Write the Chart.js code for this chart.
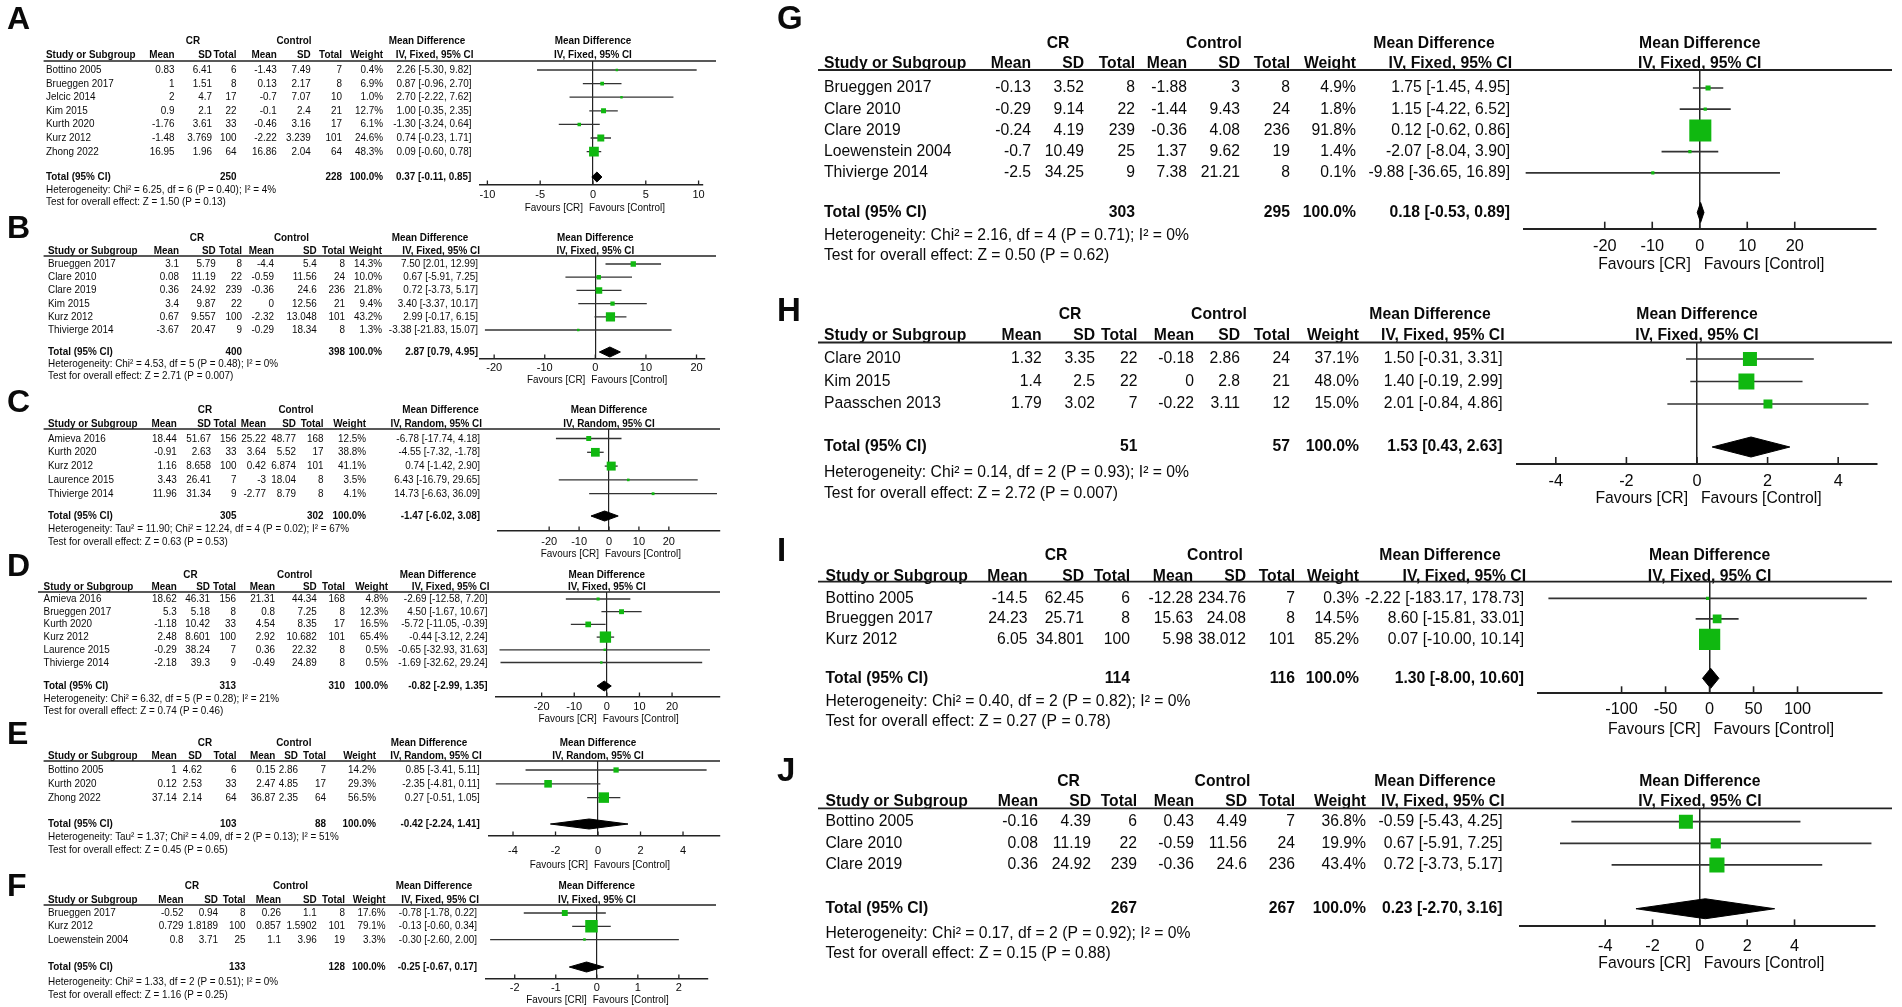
<!DOCTYPE html>
<html>
<head>
<meta charset="utf-8">
<script src="https://cdn.jsdelivr.net/npm/chart.js@4.4.1/dist/chart.umd.min.js"></script>
<style>
  html, body { margin: 0; padding: 0; background: #fff; }
  #fig { position: relative; width: 1902px; height: 1007px; overflow: hidden; background: #fff; }
  #fig canvas { position: absolute; }
</style>
</head>
<body>
<div id="fig"></div>
<script>
// ---- DATA ----
// arms = [CR mean, CR SD, CR n, Control mean, Control SD, Control n]
// md = [mean difference, lower, upper], total = [n CR, n Control, md, lower, upper]

const studiesA = ["Bottino 2005", "Brueggen 2017", "Jelcic 2014", "Kim 2015", "Kurth 2020", "Kurz 2012", "Zhong 2022"];
const armsA = [[0.83, 6.41, 6, -1.43, 7.49, 7], [1, 1.51, 8, 0.13, 2.17, 8], [2, 4.7, 17, -0.7, 7.07, 10], [0.9, 2.1, 22, -0.1, 2.4, 21], [-1.76, 3.61, 33, -0.46, 3.16, 17], [-1.48, 3.769, 100, -2.22, 3.239, 101], [16.95, 1.96, 64, 16.86, 2.04, 64]];
const weightA = [0.4, 6.9, 1.0, 12.7, 6.1, 24.6, 48.3];
const mdA = [[2.26, -5.30, 9.82], [0.87, -0.96, 2.70], [2.70, -2.22, 7.62], [1.00, -0.35, 2.35], [-1.30, -3.24, 0.64], [0.74, -0.23, 1.71], [0.09, -0.60, 0.78]];
const totalA = [250, 228, 0.37, -0.11, 0.85];
const notesA = ["Heterogeneity: Chi² = 6.25, df = 6 (P = 0.40); I² = 4%", "Test for overall effect: Z = 1.50 (P = 0.13)"];
const ticksA = [-10, -5, 0, 5, 10];

const studiesB = ["Brueggen 2017", "Clare 2010", "Clare 2019", "Kim 2015", "Kurz 2012", "Thivierge 2014"];
const armsB = [[3.1, 5.79, 8, -4.4, 5.4, 8], [0.08, 11.19, 22, -0.59, 11.56, 24], [0.36, 24.92, 239, -0.36, 24.6, 236], [3.4, 9.87, 22, 0, 12.56, 21], [0.67, 9.557, 100, -2.32, 13.048, 101], [-3.67, 20.47, 9, -0.29, 18.34, 8]];
const weightB = [14.3, 10.0, 21.8, 9.4, 43.2, 1.3];
const mdB = [[7.50, 2.01, 12.99], [0.67, -5.91, 7.25], [0.72, -3.73, 5.17], [3.40, -3.37, 10.17], [2.99, -0.17, 6.15], [-3.38, -21.83, 15.07]];
const totalB = [400, 398, 2.87, 0.79, 4.95];
const notesB = ["Heterogeneity: Chi² = 4.53, df = 5 (P = 0.48); I² = 0%", "Test for overall effect: Z = 2.71 (P = 0.007)"];
const ticksB = [-20, -10, 0, 10, 20];

const studiesC = ["Amieva 2016", "Kurth 2020", "Kurz 2012", "Laurence 2015", "Thivierge 2014"];
const armsC = [[18.44, 51.67, 156, 25.22, 48.77, 168], [-0.91, 2.63, 33, 3.64, 5.52, 17], [1.16, 8.658, 100, 0.42, 6.874, 101], [3.43, 26.41, 7, -3, 18.04, 8], [11.96, 31.34, 9, -2.77, 8.79, 8]];
const weightC = [12.5, 38.8, 41.1, 3.5, 4.1];
const mdC = [[-6.78, -17.74, 4.18], [-4.55, -7.32, -1.78], [0.74, -1.42, 2.90], [6.43, -16.79, 29.65], [14.73, -6.63, 36.09]];
const totalC = [305, 302, -1.47, -6.02, 3.08];
const notesC = ["Heterogeneity: Tau² = 11.90; Chi² = 12.24, df = 4 (P = 0.02); I² = 67%", "Test for overall effect: Z = 0.63 (P = 0.53)"];
const ticksC = [-20, -10, 0, 10, 20];

const studiesD = ["Amieva 2016", "Brueggen 2017", "Kurth 2020", "Kurz 2012", "Laurence 2015", "Thivierge 2014"];
const armsD = [[18.62, 46.31, 156, 21.31, 44.34, 168], [5.3, 5.18, 8, 0.8, 7.25, 8], [-1.18, 10.42, 33, 4.54, 8.35, 17], [2.48, 8.601, 100, 2.92, 10.682, 101], [-0.29, 38.24, 7, 0.36, 22.32, 8], [-2.18, 39.3, 9, -0.49, 24.89, 8]];
const weightD = [4.8, 12.3, 16.5, 65.4, 0.5, 0.5];
const mdD = [[-2.69, -12.58, 7.20], [4.50, -1.67, 10.67], [-5.72, -11.05, -0.39], [-0.44, -3.12, 2.24], [-0.65, -32.93, 31.63], [-1.69, -32.62, 29.24]];
const totalD = [313, 310, -0.82, -2.99, 1.35];
const notesD = ["Heterogeneity: Chi² = 6.32, df = 5 (P = 0.28); I² = 21%", "Test for overall effect: Z = 0.74 (P = 0.46)"];
const ticksD = [-20, -10, 0, 10, 20];

const studiesE = ["Bottino 2005", "Kurth 2020", "Zhong 2022"];
const armsE = [[1, 4.62, 6, 0.15, 2.86, 7], [0.12, 2.53, 33, 2.47, 4.85, 17], [37.14, 2.14, 64, 36.87, 2.35, 64]];
const weightE = [14.2, 29.3, 56.5];
const mdE = [[0.85, -3.41, 5.11], [-2.35, -4.81, 0.11], [0.27, -0.51, 1.05]];
const totalE = [103, 88, -0.42, -2.24, 1.41];
const notesE = ["Heterogeneity: Tau² = 1.37; Chi² = 4.09, df = 2 (P = 0.13); I² = 51%", "Test for overall effect: Z = 0.45 (P = 0.65)"];
const ticksE = [-4, -2, 0, 2, 4];

const studiesF = ["Brueggen 2017", "Kurz 2012", "Loewenstein 2004"];
const armsF = [[-0.52, 0.94, 8, 0.26, 1.1, 8], [0.729, 1.8189, 100, 0.857, 1.5902, 101], [0.8, 3.71, 25, 1.1, 3.96, 19]];
const weightF = [17.6, 79.1, 3.3];
const mdF = [[-0.78, -1.78, 0.22], [-0.13, -0.60, 0.34], [-0.30, -2.60, 2.00]];
const totalF = [133, 128, -0.25, -0.67, 0.17];
const notesF = ["Heterogeneity: Chi² = 1.33, df = 2 (P = 0.51); I² = 0%", "Test for overall effect: Z = 1.16 (P = 0.25)"];
const ticksF = [-2, -1, 0, 1, 2];

const studiesG = ["Brueggen 2017", "Clare 2010", "Clare 2019", "Loewenstein 2004", "Thivierge 2014"];
const armsG = [[-0.13, 3.52, 8, -1.88, 3, 8], [-0.29, 9.14, 22, -1.44, 9.43, 24], [-0.24, 4.19, 239, -0.36, 4.08, 236], [-0.7, 10.49, 25, 1.37, 9.62, 19], [-2.5, 34.25, 9, 7.38, 21.21, 8]];
const weightG = [4.9, 1.8, 91.8, 1.4, 0.1];
const mdG = [[1.75, -1.45, 4.95], [1.15, -4.22, 6.52], [0.12, -0.62, 0.86], [-2.07, -8.04, 3.90], [-9.88, -36.65, 16.89]];
const totalG = [303, 295, 0.18, -0.53, 0.89];
const notesG = ["Heterogeneity: Chi² = 2.16, df = 4 (P = 0.71); I² = 0%", "Test for overall effect: Z = 0.50 (P = 0.62)"];
const ticksG = [-20, -10, 0, 10, 20];

const studiesH = ["Clare 2010", "Kim 2015", "Paasschen 2013"];
const armsH = [[1.32, 3.35, 22, -0.18, 2.86, 24], [1.4, 2.5, 22, 0, 2.8, 21], [1.79, 3.02, 7, -0.22, 3.11, 12]];
const weightH = [37.1, 48.0, 15.0];
const mdH = [[1.50, -0.31, 3.31], [1.40, -0.19, 2.99], [2.01, -0.84, 4.86]];
const totalH = [51, 57, 1.53, 0.43, 2.63];
const notesH = ["Heterogeneity: Chi² = 0.14, df = 2 (P = 0.93); I² = 0%", "Test for overall effect: Z = 2.72 (P = 0.007)"];
const ticksH = [-4, -2, 0, 2, 4];

const studiesI = ["Bottino 2005", "Brueggen 2017", "Kurz 2012"];
const armsI = [[-14.5, 62.45, 6, -12.28, 234.76, 7], [24.23, 25.71, 8, 15.63, 24.08, 8], [6.05, 34.801, 100, 5.98, 38.012, 101]];
const weightI = [0.3, 14.5, 85.2];
const mdI = [[-2.22, -183.17, 178.73], [8.60, -15.81, 33.01], [0.07, -10.00, 10.14]];
const totalI = [114, 116, 1.30, -8.00, 10.60];
const notesI = ["Heterogeneity: Chi² = 0.40, df = 2 (P = 0.82); I² = 0%", "Test for overall effect: Z = 0.27 (P = 0.78)"];
const ticksI = [-100, -50, 0, 50, 100];

const studiesJ = ["Bottino 2005", "Clare 2010", "Clare 2019"];
const armsJ = [[-0.16, 4.39, 6, 0.43, 4.49, 7], [0.08, 11.19, 22, -0.59, 11.56, 24], [0.36, 24.92, 239, -0.36, 24.6, 236]];
const weightJ = [36.8, 19.9, 43.4];
const mdJ = [[-0.59, -5.43, 4.25], [0.67, -5.91, 7.25], [0.72, -3.73, 5.17]];
const totalJ = [267, 267, 0.23, -2.70, 3.16];
const notesJ = ["Heterogeneity: Chi² = 0.17, df = 2 (P = 0.92); I² = 0%", "Test for overall effect: Z = 0.15 (P = 0.88)"];
const ticksJ = [-4, -2, 0, 2, 4];

// axis captions (panel F carries a stray "l" in the original)
const favours = ["Favours [CR]", "Favours [Control]"];
const favoursF = ["Favours [CRl]", "Favours [Control]"];

// ---- LAYOUT (page pixels) ----
const FONT = '"Liberation Sans", Arial, Helvetica, sans-serif';
const fig = document.getElementById("fig");

const layouts = {
  A: { side: "L", method: "Fixed", letterY: 20, grpY: 41, colY: 55, lineY: 61, row0: 70, pitch: 13.6, totalY: 177, hetY: 190, testY: 202, axisY: 185, tickY: 195, favY: 208,
       studyX: 46, cols: [174.5, 212, 236.4, 276.8, 310.7, 342, 383, 471.4], grp: [193, 294, 427], hdrX: [43.6, 716], fx: [480, 702.8], xr: [-10.7, 10.4] },
  B: { side: "L", method: "Fixed", letterY: 229, grpY: 238, colY: 251, lineY: 256, row0: 264, pitch: 13.2, totalY: 352, hetY: 364, testY: 376, axisY: 359, tickY: 368, favY: 380,
       studyX: 48, cols: [179, 215.7, 242, 274, 316.7, 345, 382, 478], grp: [197, 291.5, 430], hdrX: [43.6, 716], fx: [480, 704.6], xr: [-22.8, 21.6] },
  C: { side: "L", method: "Random", letterY: 403, grpY: 410, colY: 424, lineY: 429, row0: 438.5, pitch: 13.8, totalY: 516, hetY: 529, testY: 542, axisY: 531, tickY: 542, favY: 554,
       studyX: 48, cols: [176.7, 211, 236.4, 266, 296, 323.6, 366, 480], grp: [205, 296, 440.6], hdrX: [43.6, 720], fx: [498, 720], xr: [-37.1, 37.1] },
  D: { side: "L", method: "Fixed", letterY: 567, grpY: 575, colY: 587, lineY: 592, row0: 599, pitch: 12.7, totalY: 686, hetY: 699, testY: 711, axisY: 697, tickY: 707, favY: 719,
       studyX: 43.6, cols: [176.7, 210, 236, 275, 316.7, 345, 388, 487.5], grp: [190.5, 294.7, 438], hdrX: [38, 720], fx: [496, 720], xr: [-34, 34.7] },
  E: { side: "L", method: "Random", letterY: 735, grpY: 743, colY: 756, lineY: 761, row0: 770, pitch: 13.8, totalY: 824, hetY: 837, testY: 850, axisY: 836, tickY: 851, favY: 865,
       studyX: 48, cols: [176.7, 202, 236.4, 275.4, 298, 326, 376, 479.7], grp: [205, 293.8, 429], hdrX: [43.6, 720], fx: [489, 720], xr: [-5.13, 5.74] },
  F: { side: "L", method: "Fixed", letterY: 887, grpY: 886, colY: 900, lineY: 905, row0: 913, pitch: 13.3, totalY: 967, hetY: 982, testY: 995, axisY: 979, tickY: 988, favY: 1000,
       studyX: 48, cols: [183.6, 218, 245.6, 281, 316.7, 345, 385.6, 477], grp: [192, 290.5, 434], hdrX: [43.6, 716], fx: [485.6, 708], xr: [-2.71, 2.71] },
  G: { side: "R", method: "Fixed", letterY: 20, grpY: 43.3, colY: 63.3, lineY: 70, row0: 88, pitch: 21.2, totalY: 212.5, hetY: 235.7, testY: 256, axisY: 228.7, tickY: 246.7, favY: 265,
       studyX: 824, cols: [1031, 1084, 1135, 1187, 1240, 1290, 1356, 1510], grp: [1058, 1214, 1434], hdrX: [818, 1892], fx: [1524, 1875.5], xr: [-37, 37] },
  H: { side: "R", method: "Fixed", letterY: 312, grpY: 315, colY: 336, lineY: 342.5, row0: 359, pitch: 22.5, totalY: 447, hetY: 472.5, testY: 494, axisY: 464, tickY: 482, favY: 499,
       studyX: 824, cols: [1041.7, 1095, 1137.4, 1194, 1240, 1290, 1359, 1502.5], grp: [1070, 1219, 1430], hdrX: [818, 1892], fx: [1517, 1877], xr: [-5.1, 5.1] },
  I: { side: "R", method: "Fixed", letterY: 552, grpY: 556, colY: 576.7, lineY: 581.7, row0: 598.3, pitch: 20.5, totalY: 678.3, hetY: 701.7, testY: 721.7, axisY: 693.3, tickY: 710, favY: 730,
       studyX: 825.5, cols: [1027.5, 1084, 1130, 1193, 1246, 1295, 1359, 1524], grp: [1056, 1215, 1440], hdrX: [818, 1892], fx: [1538, 1882], xr: [-195, 196] },
  J: { side: "R", method: "Fixed", letterY: 772, grpY: 781.7, colY: 801.7, lineY: 808.3, row0: 821.7, pitch: 21.7, totalY: 909, hetY: 933.3, testY: 953.3, axisY: 926.7, tickY: 946.7, favY: 963.3,
       studyX: 825.5, cols: [1038, 1091, 1137, 1194, 1247, 1295, 1366, 1502.5], grp: [1068.6, 1222.5, 1435], hdrX: [818, 1892], fx: [1520, 1875], xr: [-7.6, 7.4] }
};

function fmtMd(m) {
  return m[0].toFixed(2) + " [" + m[1].toFixed(2) + ", " + m[2].toFixed(2) + "]";
}

function buildPanel(key, studies, arms, weight, md, total, notes, ticks, favLabels) {
  const L = layouts[key];
  const isL = L.side === "L";
  const left = isL ? 0 : 770;
  const width = isL ? 728 : 1132;
  const top = Math.max(0, Math.min(L.letterY, L.grpY) - 26);
  const bottom = Math.min(1007, L.favY + 12);
  const height = Math.round(bottom - top);

  const canvas = document.createElement("canvas");
  canvas.width = width;
  canvas.height = height;
  canvas.style.left = left + "px";
  canvas.style.top = top + "px";
  canvas.style.width = width + "px";
  canvas.style.height = height + "px";
  fig.appendChild(canvas);

  const fs = isL ? 11 : 16.3;
  const squeeze = isL ? 0.9 : 0.965;   // RevMan text is a little narrower than Arial
  const p = L.pitch;
  const toV = y => (y - L.row0) / p;
  const tV = toV(L.totalY);
  const sqK = isL ? 1.4 : 2.3;
  const dh = (isL ? 5 : 10) / p;
  const lineCol = "#222";

  const datasets = [];
  // squares on top
  datasets.push({
    type: "scatter",
    order: 0,
    data: md.map((m, i) => ({ x: m[0], y: i })),
    pointStyle: "rect",
    pointRadius: weight.map(w => Math.max(isL ? 2.4 : 3.2, sqK * Math.sqrt(w)) / Math.SQRT2),
    backgroundColor: "#10b810",
    borderWidth: 0
  });
  // pooled diamond
  datasets.push({
    type: "line",
    order: 1,
    data: [
      { x: total[3], y: tV }, { x: total[2], y: tV - dh }, { x: total[4], y: tV },
      { x: total[2], y: tV + dh }, { x: total[3], y: tV }
    ],
    borderColor: "#000",
    backgroundColor: "#000",
    borderWidth: 1,
    pointRadius: 0,
    tension: 0,
    fill: "shape"
  });
  // CI whiskers
  md.forEach((m, i) => {
    datasets.push({
      type: "line",
      order: 2,
      data: [{ x: m[1], y: i }, { x: m[2], y: i }],
      borderColor: "#333",
      borderWidth: isL ? 1.3 : 1.7,
      pointRadius: 0,
      fill: false
    });
  });

  const txt = (ctx, s, x, y, align, bold, size) => {
    ctx.save();
    ctx.font = (bold ? "bold " : "") + (size || fs) + "px " + FONT;
    ctx.textAlign = align;
    ctx.textBaseline = "middle";
    ctx.fillStyle = "#0a0a0a";
    ctx.translate(x - left, y - top);
    if (!size) ctx.scale(squeeze, 1);
    ctx.fillText(s, 0, 0);
    ctx.restore();
  };

  const tablePlugin = {
    id: "table" + key,
    afterDraw(chart) {
      const ctx = chart.ctx;
      const ys = chart.scales.y;
      const xs = chart.scales.x;
      const zero = xs.getPixelForValue(0) + left;
      const ci = "IV, " + L.method + ", 95% CI";
      ctx.save();

      // panel letter
      txt(ctx, key, isL ? 7 : 777, L.letterY, "left", true, isL ? 32 : 33);

      // group headers
      txt(ctx, "CR", L.grp[0], L.grpY, "center", true);
      txt(ctx, "Control", L.grp[1], L.grpY, "center", true);
      txt(ctx, "Mean Difference", L.grp[2], L.grpY, "center", true);
      txt(ctx, "Mean Difference", zero, L.grpY, "center", true);

      // column headers
      txt(ctx, "Study or Subgroup", L.studyX, L.colY, "left", true);
      ["Mean", "SD", "Total", "Mean", "SD", "Total", "Weight"].forEach((h, c) => txt(ctx, h, L.cols[c], L.colY, "right", true));
      txt(ctx, ci, L.cols[7] + 2, L.colY, "right", true);
      txt(ctx, ci, zero, L.colY, "center", true);

      // header rule
      ctx.strokeStyle = lineCol;
      ctx.lineWidth = isL ? 1.5 : 1.8;
      ctx.beginPath();
      ctx.moveTo(L.hdrX[0] - left, L.lineY - top);
      ctx.lineTo(L.hdrX[1] - left, L.lineY - top);
      ctx.stroke();

      // study rows
      studies.forEach((s, i) => {
        const y = ys.getPixelForValue(i) + top;
        txt(ctx, s, L.studyX, y, "left", false);
        arms[i].forEach((v, c) => txt(ctx, String(v), L.cols[c], y, "right", false));
        txt(ctx, weight[i].toFixed(1) + "%", L.cols[6], y, "right", false);
        txt(ctx, fmtMd(md[i]), L.cols[7], y, "right", false);
      });

      // total row
      const yt = ys.getPixelForValue(tV) + top;
      txt(ctx, "Total (95% CI)", L.studyX, yt, "left", true);
      txt(ctx, String(total[0]), L.cols[2], yt, "right", true);
      txt(ctx, String(total[1]), L.cols[5], yt, "right", true);
      txt(ctx, "100.0%", L.cols[6], yt, "right", true);
      txt(ctx, fmtMd(total.slice(2)), L.cols[7], yt, "right", true);

      txt(ctx, notes[0], L.studyX, L.hetY, "left", false);
      txt(ctx, notes[1], L.studyX, L.testY, "left", false);

      // tick marks pointing up from the axis
      const tl = isL ? 4.5 : 7;
      ctx.strokeStyle = lineCol;
      ctx.lineWidth = isL ? 1.3 : 1.6;
      xs.ticks.forEach(t => {
        const x = xs.getPixelForValue(t.value);
        ctx.beginPath();
        ctx.moveTo(x, xs.top - tl);
        ctx.lineTo(x, xs.top);
        ctx.stroke();
      });

      // favours labels
      const off = isL ? [-10, -4] : [-9, 4];
      txt(ctx, favLabels[0], zero + off[0], L.favY, "right", false);
      txt(ctx, favLabels[1], zero + off[1], L.favY, "left", false);
      ctx.restore();
    }
  };

  return new Chart(canvas, {
    type: "scatter",
    data: { datasets },
    options: {
      responsive: false,
      animation: false,
      devicePixelRatio: 1,
      events: [],
      layout: {
        padding: { left: L.fx[0] - left, right: left + width - L.fx[1], top: L.lineY - top, bottom: 0 }
      },
      plugins: { legend: { display: false }, tooltip: { enabled: false } },
      scales: {
        x: {
          type: "linear",
          position: "bottom",
          min: L.xr[0],
          max: L.xr[1],
          afterBuildTicks: sc => { sc.ticks = ticks.map(v => ({ value: v })); },
          afterFit: sc => { sc.height = bottom - L.axisY; },
          ticks: {
            callback: v => String(v),
            color: "#0a0a0a",
            font: { family: FONT, size: fs },
            padding: (L.tickY - L.axisY) - 0.6 * fs,
            maxRotation: 0,
            autoSkip: false
          },
          grid: {
            drawTicks: false,
            lineWidth: isL ? 1.2 : 1.5,
            color: c => (c.tick && c.tick.value === 0 ? lineCol : "rgba(0,0,0,0)")
          },
          border: { display: true, color: lineCol, width: isL ? 1.5 : 2 }
        },
        y: {
          type: "linear",
          display: false,
          reverse: true,
          min: toV(L.lineY),
          max: toV(L.axisY)
        }
      }
    },
    plugins: [tablePlugin]
  });
}

buildPanel("A", studiesA, armsA, weightA, mdA, totalA, notesA, ticksA, favours);
buildPanel("B", studiesB, armsB, weightB, mdB, totalB, notesB, ticksB, favours);
buildPanel("C", studiesC, armsC, weightC, mdC, totalC, notesC, ticksC, favours);
buildPanel("D", studiesD, armsD, weightD, mdD, totalD, notesD, ticksD, favours);
buildPanel("E", studiesE, armsE, weightE, mdE, totalE, notesE, ticksE, favours);
buildPanel("F", studiesF, armsF, weightF, mdF, totalF, notesF, ticksF, favoursF);
buildPanel("G", studiesG, armsG, weightG, mdG, totalG, notesG, ticksG, favours);
buildPanel("H", studiesH, armsH, weightH, mdH, totalH, notesH, ticksH, favours);
buildPanel("I", studiesI, armsI, weightI, mdI, totalI, notesI, ticksI, favours);
buildPanel("J", studiesJ, armsJ, weightJ, mdJ, totalJ, notesJ, ticksJ, favours);
</script>
</body>
</html>
